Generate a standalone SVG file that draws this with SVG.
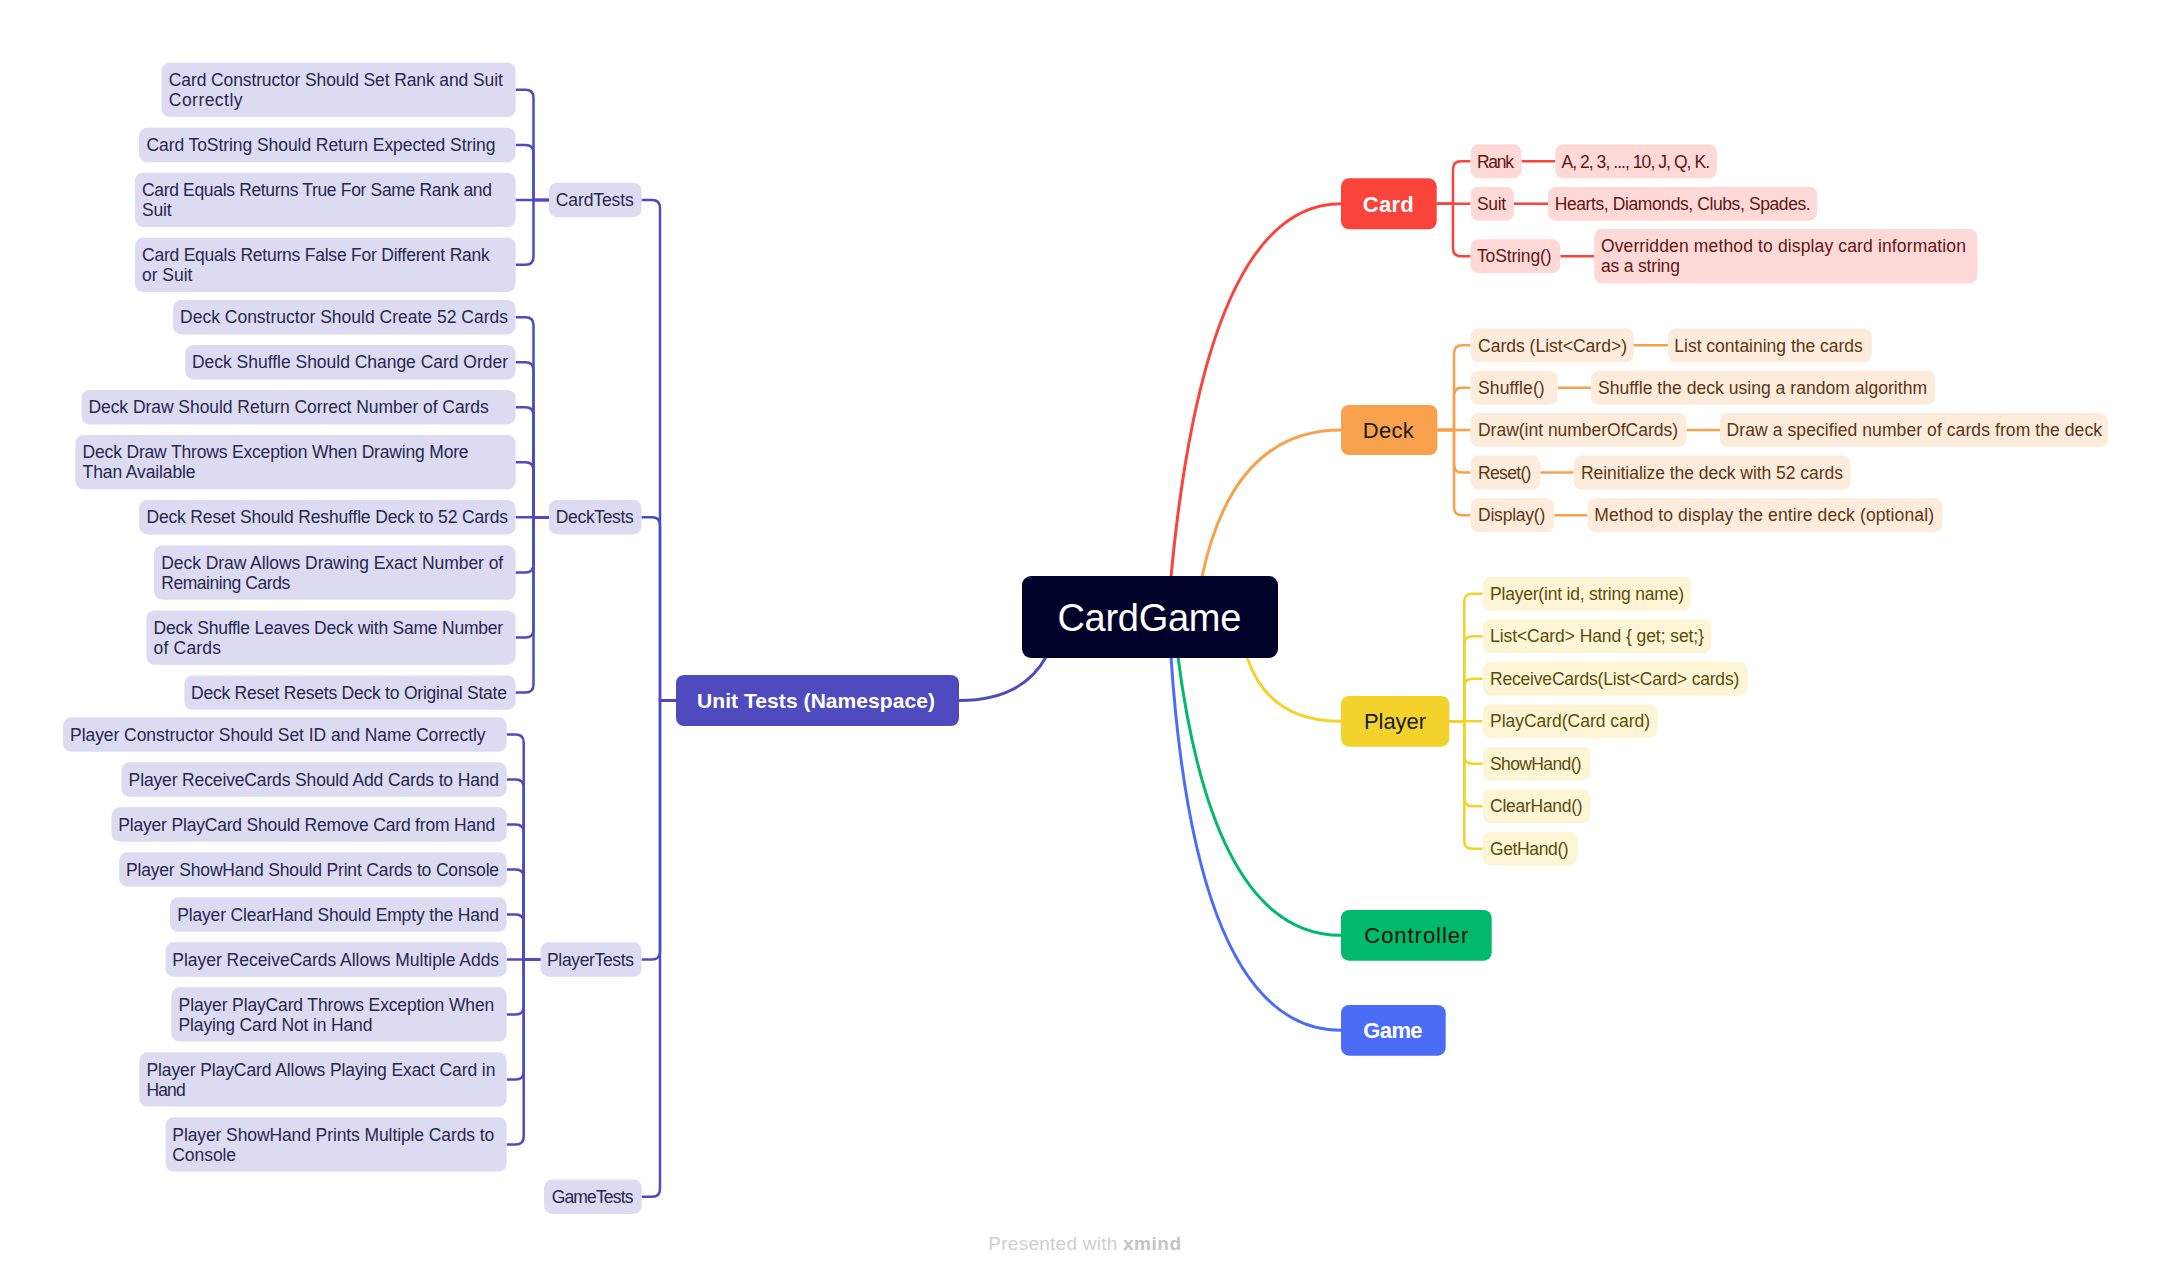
<svg xmlns="http://www.w3.org/2000/svg" width="2172" height="1277" viewBox="0 0 2172 1277">
<defs>
<style>
text{font-family:"Liberation Sans",Arial,sans-serif}
.s{font-size:17.5px}
.m{font-size:22px}
.tb{fill:#dcdbf2}
.tt{fill:#28284e}
.rb{fill:#ffd9d7}
.rt{fill:#5e1614}
.ob{fill:#fdebdb}
.ot{fill:#5a3716}
.yb{fill:#fdf6d6}
.yt{fill:#5b4c0c}
.ul{fill:none;stroke:#4f4bbf;stroke-width:2.5}
.rl{fill:none;stroke:#fa433a;stroke-width:2.5}
.ol{fill:none;stroke:#f7a14c;stroke-width:2.5}
.yl{fill:none;stroke:#f3d32b;stroke-width:2.5}
.main{fill:none;stroke-width:3}
</style>
</defs>
<rect width="2172" height="1277" fill="#ffffff"/>

<g id="connectors">
<path class="main" stroke="#fa433a" d="M1171 577 Q1206 203.8 1341 203.8"/>
<path class="main" stroke="#f7a14c" d="M1202 577 Q1233 430 1341 430"/>
<path class="main" stroke="#f3d32b" d="M1247 657 Q1268 721.3 1341 721.3"/>
<path class="main" stroke="#00b96b" d="M1178 657 Q1214 935.3 1341 935.3"/>
<path class="main" stroke="#4b6cf7" d="M1171 657 Q1196 1030.3 1341 1030.3"/>
<path class="main" stroke="#4f4bbf" d="M1046 657 Q1022 700.5 959 700.5"/>

<path class="ul" d="M676 700.5 H660 V208 Q660 200 652 200 H641.5"/>
<path class="ul" d="M676 700.5 H660 V525.2 Q660 517.2 652 517.2 H641.5"/>
<path class="ul" d="M676 700.5 H660 V951.5 Q660 959.5 652 959.5 H641.5"/>
<path class="ul" d="M676 700.5 H660 V1188.7 Q660 1196.7 652 1196.7 H641.7"/>

<path class="ul" d="M549 200 H533.5 V97.85 Q533.5 89.85 525.5 89.85 H515.6"/>
<path class="ul" d="M549 200 H533.5 V153 Q533.5 145 525.5 145 H515.6"/>
<path class="ul" d="M549 200 H515.6"/>
<path class="ul" d="M549 200 H533.5 V256.85 Q533.5 264.85 525.5 264.85 H515.6"/>

<path class="ul" d="M549 517.2 H533.5 V325.2 Q533.5 317.2 525.5 317.2 H515.6"/>
<path class="ul" d="M549 517.2 H533.5 V370.2 Q533.5 362.2 525.5 362.2 H515.6"/>
<path class="ul" d="M549 517.2 H533.5 V415.2 Q533.5 407.2 525.5 407.2 H515.6"/>
<path class="ul" d="M549 517.2 H533.5 V470.15 Q533.5 462.15 525.5 462.15 H515.6"/>
<path class="ul" d="M549 517.2 H515.6"/>
<path class="ul" d="M549 517.2 H533.5 V564.55 Q533.5 572.55 525.5 572.55 H515.6"/>
<path class="ul" d="M549 517.2 H533.5 V629.55 Q533.5 637.55 525.5 637.55 H515.6"/>
<path class="ul" d="M549 517.2 H533.5 V684.6 Q533.5 692.6 525.5 692.6 H515.6"/>

<path class="ul" d="M540.6 959.5 H523.7 V742.5 Q523.7 734.5 515.7 734.5 H506.7"/>
<path class="ul" d="M540.6 959.5 H523.7 V787.5 Q523.7 779.5 515.7 779.5 H506.7"/>
<path class="ul" d="M540.6 959.5 H523.7 V832.5 Q523.7 824.5 515.7 824.5 H506.7"/>
<path class="ul" d="M540.6 959.5 H523.7 V877.5 Q523.7 869.5 515.7 869.5 H506.7"/>
<path class="ul" d="M540.6 959.5 H523.7 V922.5 Q523.7 914.5 515.7 914.5 H506.7"/>
<path class="ul" d="M540.6 959.5 H506.7"/>
<path class="ul" d="M540.6 959.5 H523.7 V1006.45 Q523.7 1014.45 515.7 1014.45 H506.7"/>
<path class="ul" d="M540.6 959.5 H523.7 V1071.45 Q523.7 1079.45 515.7 1079.45 H506.7"/>
<path class="ul" d="M540.6 959.5 H523.7 V1136.45 Q523.7 1144.45 515.7 1144.45 H506.7"/>

<path class="rl" d="M1436.7 203.8 H1453 V169.3 Q1453 161.3 1461 161.3 H1470.5"/>
<path class="rl" d="M1436.7 203.8 H1470.5"/>
<path class="rl" d="M1436.7 203.8 H1453 V248.2 Q1453 256.2 1461 256.2 H1470.5"/>
<path class="rl" d="M1521.5 161.3 H1555.3 M1514 203.7 H1548 M1560.3 256.2 H1594.2"/>

<path class="ol" d="M1437.4 430 H1454 V353.3 Q1454 345.3 1462 345.3 H1470.5"/>
<path class="ol" d="M1437.4 430 H1454 V395.7 Q1454 387.7 1462 387.7 H1470.5"/>
<path class="ol" d="M1437.4 430 H1470.5"/>
<path class="ol" d="M1437.4 430 H1454 V464.5 Q1454 472.5 1462 472.5 H1470.5"/>
<path class="ol" d="M1437.4 430 H1454 V507.2 Q1454 515.2 1462 515.2 H1470.5"/>
<path class="ol" d="M1633.7 345.3 H1668.2 M1557.5 387.7 H1590.9 M1686.5 430 H1720 M1540.3 472.5 H1573.6 M1554.2 515.2 H1587.5"/>

<path class="yl" d="M1449.3 721.3 H1464.3 V601.7 Q1464.3 593.7 1472.3 593.7 H1482.7"/>
<path class="yl" d="M1449.3 721.3 H1464.3 V644.2 Q1464.3 636.2 1472.3 636.2 H1482.7"/>
<path class="yl" d="M1449.3 721.3 H1464.3 V686.7 Q1464.3 678.7 1472.3 678.7 H1482.7"/>
<path class="yl" d="M1449.3 721.3 H1482.7"/>
<path class="yl" d="M1449.3 721.3 H1464.3 V755.7 Q1464.3 763.7 1472.3 763.7 H1482.7"/>
<path class="yl" d="M1449.3 721.3 H1464.3 V798.2 Q1464.3 806.2 1472.3 806.2 H1482.7"/>
<path class="yl" d="M1449.3 721.3 H1464.3 V840.7 Q1464.3 848.7 1472.3 848.7 H1482.7"/>
</g>

<g id="root"><rect x="1022" y="576" width="256" height="82" rx="9" fill="#000229"/><text x="1057.4" y="630.6" font-size="38" fill="#ffffff" textLength="184">CardGame</text></g>

<g id="unit-tests"><rect x="676" y="675" width="283" height="51" rx="8" fill="#4f4bbf"/><text x="697" y="708" font-size="21" font-weight="bold" fill="#ffffff" textLength="238">Unit Tests (Namespace)</text></g>

<g id="card-tests"><rect class="tb" x="549" y="182.8" width="92.5" height="34.4" rx="8"/><text class="s tt" x="555.8" y="206.2" textLength="78">CardTests</text></g>
<g id="ct1"><rect class="tb" x="161.6" y="62.7" width="354" height="54.3" rx="8"/><text class="s tt" x="168.8" y="86" textLength="334">Card Constructor Should Set Rank and Suit</text><text class="s tt" x="168.8" y="106" textLength="73.7">Correctly</text></g>
<g id="ct2"><rect class="tb" x="139" y="127.8" width="376.6" height="34.4" rx="8"/><text class="s tt" x="146.4" y="151.2" textLength="349">Card ToString Should Return Expected String</text></g>
<g id="ct3"><rect class="tb" x="135" y="172.7" width="380.6" height="54.3" rx="8"/><text class="s tt" x="142" y="196" textLength="350">Card Equals Returns True For Same Rank and</text><text class="s tt" x="142" y="216" textLength="29.5">Suit</text></g>
<g id="ct4"><rect class="tb" x="135" y="237.7" width="380.6" height="54.3" rx="8"/><text class="s tt" x="142" y="261" textLength="347.8">Card Equals Returns False For Different Rank</text><text class="s tt" x="142" y="281" textLength="50.4">or Suit</text></g>

<g id="deck-tests"><rect class="tb" x="549" y="500" width="92.5" height="34.4" rx="8"/><text class="s tt" x="555.8" y="523.4" textLength="78">DeckTests</text></g>
<g id="dt1"><rect class="tb" x="173.2" y="300" width="342.4" height="34.4" rx="8"/><text class="s tt" x="180" y="323.4" textLength="328">Deck Constructor Should Create 52 Cards</text></g>
<g id="dt2"><rect class="tb" x="185.3" y="345" width="330.3" height="34.4" rx="8"/><text class="s tt" x="192" y="368.4" textLength="316">Deck Shuffle Should Change Card Order</text></g>
<g id="dt3"><rect class="tb" x="81.7" y="390" width="433.9" height="34.4" rx="8"/><text class="s tt" x="88.4" y="413.4" textLength="400.4">Deck Draw Should Return Correct Number of Cards</text></g>
<g id="dt4"><rect class="tb" x="75.4" y="435" width="440.2" height="54.3" rx="8"/><text class="s tt" x="82.6" y="458.3" textLength="386">Deck Draw Throws Exception When Drawing More</text><text class="s tt" x="82.6" y="478.3" textLength="113">Than Available</text></g>
<g id="dt5"><rect class="tb" x="139.3" y="500" width="376.3" height="34.4" rx="8"/><text class="s tt" x="146.4" y="523.4" textLength="361.6">Deck Reset Should Reshuffle Deck to 52 Cards</text></g>
<g id="dt6"><rect class="tb" x="154" y="545.4" width="361.6" height="54.3" rx="8"/><text class="s tt" x="161.2" y="568.7" textLength="342">Deck Draw Allows Drawing Exact Number of</text><text class="s tt" x="161.2" y="588.7" textLength="129">Remaining Cards</text></g>
<g id="dt7"><rect class="tb" x="146.4" y="610.4" width="369.2" height="54.3" rx="8"/><text class="s tt" x="153.6" y="633.7" textLength="349.5">Deck Shuffle Leaves Deck with Same Number</text><text class="s tt" x="153.6" y="653.7" textLength="67.4">of Cards</text></g>
<g id="dt8"><rect class="tb" x="184.4" y="675.4" width="331.2" height="34.4" rx="8"/><text class="s tt" x="191" y="698.8" textLength="316">Deck Reset Resets Deck to Original State</text></g>

<g id="player-tests"><rect class="tb" x="540.6" y="942.3" width="100.9" height="34.4" rx="8"/><text class="s tt" x="547" y="965.7" textLength="87">PlayerTests</text></g>
<g id="pt1"><rect class="tb" x="63" y="717.3" width="443.7" height="34.4" rx="8"/><text class="s tt" x="70" y="740.7" textLength="415.6">Player Constructor Should Set ID and Name Correctly</text></g>
<g id="pt2"><rect class="tb" x="121.4" y="762.3" width="385.3" height="34.4" rx="8"/><text class="s tt" x="128.6" y="785.7" textLength="370.5">Player ReceiveCards Should Add Cards to Hand</text></g>
<g id="pt3"><rect class="tb" x="111.6" y="807.3" width="395.1" height="34.4" rx="8"/><text class="s tt" x="118.3" y="830.7" textLength="377">Player PlayCard Should Remove Card from Hand</text></g>
<g id="pt4"><rect class="tb" x="119.2" y="852.3" width="387.5" height="34.4" rx="8"/><text class="s tt" x="125.9" y="875.7" textLength="373.2">Player ShowHand Should Print Cards to Console</text></g>
<g id="pt5"><rect class="tb" x="170" y="897.3" width="336.7" height="34.4" rx="8"/><text class="s tt" x="177.2" y="920.7" textLength="321.9">Player ClearHand Should Empty the Hand</text></g>
<g id="pt6"><rect class="tb" x="165.6" y="942.3" width="341.1" height="34.4" rx="8"/><text class="s tt" x="172.3" y="965.7" textLength="326.8">Player ReceiveCards Allows Multiple Adds</text></g>
<g id="pt7"><rect class="tb" x="171.4" y="987.3" width="335.3" height="54.3" rx="8"/><text class="s tt" x="178.6" y="1010.6" textLength="315.6">Player PlayCard Throws Exception When</text><text class="s tt" x="178.6" y="1030.6" textLength="193.8">Playing Card Not in Hand</text></g>
<g id="pt8"><rect class="tb" x="139.3" y="1052.3" width="367.4" height="54.3" rx="8"/><text class="s tt" x="146.4" y="1075.6" textLength="349">Player PlayCard Allows Playing Exact Card in</text><text class="s tt" x="146.4" y="1095.6" textLength="39.3">Hand</text></g>
<g id="pt9"><rect class="tb" x="165.6" y="1117.3" width="341.1" height="54.3" rx="8"/><text class="s tt" x="172.3" y="1140.6" textLength="321.9">Player ShowHand Prints Multiple Cards to</text><text class="s tt" x="172.3" y="1160.6" textLength="63.8">Console</text></g>

<g id="game-tests"><rect class="tb" x="544" y="1179.5" width="97.7" height="34.4" rx="8"/><text class="s tt" x="551.7" y="1202.9" textLength="81.7">GameTests</text></g>

<g id="card"><rect x="1341" y="178.3" width="95.7" height="51" rx="8" fill="#fa433a"/><text class="m" x="1362.8" y="211.7" font-weight="bold" fill="#ffffff" textLength="51">Card</text></g>
<g id="card-rank"><rect class="rb" x="1470.5" y="144.3" width="51" height="34" rx="8"/><text class="s rt" x="1477" y="167.5" textLength="37">Rank</text></g>
<g id="card-suit"><rect class="rb" x="1470.5" y="186.7" width="43.5" height="34" rx="8"/><text class="s rt" x="1477" y="209.9" textLength="29">Suit</text></g>
<g id="card-tostring"><rect class="rb" x="1470.5" y="239.2" width="89.8" height="34" rx="8"/><text class="s rt" x="1477" y="262.4" textLength="74.5">ToString()</text></g>
<g id="card-rank-v"><rect class="rb" x="1555.3" y="144.3" width="161.7" height="34" rx="8"/><text class="s rt" x="1561.4" y="167.5" textLength="148.6">A, 2, 3, ..., 10, J, Q, K.</text></g>
<g id="card-suit-v"><rect class="rb" x="1548" y="186.7" width="269.2" height="34" rx="8"/><text class="s rt" x="1554.7" y="209.9" textLength="256">Hearts, Diamonds, Clubs, Spades.</text></g>
<g id="card-tostring-v"><rect class="rb" x="1594.2" y="229" width="383.2" height="54.4" rx="8"/><text class="s rt" x="1600.9" y="252.4" textLength="365">Overridden method to display card information</text><text class="s rt" x="1600.9" y="272.4" textLength="79">as a string</text></g>

<g id="deck"><rect x="1341" y="405" width="96.4" height="50" rx="8" fill="#f7a14c"/><text class="m" x="1362.8" y="437.7" fill="#1b1b1b" textLength="51">Deck</text></g>
<g id="deck-cards"><rect class="ob" x="1470.5" y="328.3" width="163.2" height="34" rx="8"/><text class="s ot" x="1478" y="351.5" textLength="149">Cards (List&lt;Card&gt;)</text></g>
<g id="deck-shuffle"><rect class="ob" x="1470.5" y="370.7" width="87" height="34" rx="8"/><text class="s ot" x="1478" y="393.9" textLength="66.7">Shuffle()</text></g>
<g id="deck-draw"><rect class="ob" x="1470.5" y="413" width="216" height="34" rx="8"/><text class="s ot" x="1478" y="436.2" textLength="200">Draw(int numberOfCards)</text></g>
<g id="deck-reset"><rect class="ob" x="1470.5" y="455.5" width="69.8" height="34" rx="8"/><text class="s ot" x="1478" y="478.7" textLength="53.4">Reset()</text></g>
<g id="deck-display"><rect class="ob" x="1470.5" y="498.2" width="83.7" height="34" rx="8"/><text class="s ot" x="1478" y="521.4" textLength="67.3">Display()</text></g>
<g id="deck-cards-v"><rect class="ob" x="1668.2" y="328.3" width="203.5" height="34" rx="8"/><text class="s ot" x="1674.3" y="351.5" textLength="188.5">List containing the cards</text></g>
<g id="deck-shuffle-v"><rect class="ob" x="1590.9" y="370.7" width="344.2" height="34" rx="8"/><text class="s ot" x="1598" y="393.9" textLength="329">Shuffle the deck using a random algorithm</text></g>
<g id="deck-draw-v"><rect class="ob" x="1720" y="413" width="388" height="34" rx="8"/><text class="s ot" x="1726.6" y="436.2" textLength="375.4">Draw a specified number of cards from the deck</text></g>
<g id="deck-reset-v"><rect class="ob" x="1573.6" y="455.5" width="277" height="34" rx="8"/><text class="s ot" x="1580.9" y="478.7" textLength="262">Reinitialize the deck with 52 cards</text></g>
<g id="deck-display-v"><rect class="ob" x="1587.5" y="498.2" width="354.9" height="34" rx="8"/><text class="s ot" x="1594.2" y="521.4" textLength="339.8">Method to display the entire deck (optional)</text></g>

<g id="player"><rect x="1341" y="696" width="108.3" height="50.7" rx="8" fill="#f3d32b"/><text class="m" x="1364" y="729" fill="#1b1b1b" textLength="62">Player</text></g>
<g id="player-ctor"><rect class="yb" x="1482.7" y="576.7" width="208.6" height="34" rx="8"/><text class="s yt" x="1490" y="599.9" textLength="194">Player(int id, string name)</text></g>
<g id="player-hand"><rect class="yb" x="1482.7" y="619.2" width="229" height="34" rx="8"/><text class="s yt" x="1490" y="642.4" textLength="214">List&lt;Card&gt; Hand { get; set;}</text></g>
<g id="player-receive"><rect class="yb" x="1482.7" y="661.7" width="265" height="34" rx="8"/><text class="s yt" x="1490" y="684.9" textLength="249.3">ReceiveCards(List&lt;Card&gt; cards)</text></g>
<g id="player-play"><rect class="yb" x="1482.7" y="704.2" width="175" height="34" rx="8"/><text class="s yt" x="1490" y="727.4" textLength="160">PlayCard(Card card)</text></g>
<g id="player-show"><rect class="yb" x="1482.7" y="746.7" width="107.6" height="34" rx="8"/><text class="s yt" x="1490" y="769.9" textLength="91.7">ShowHand()</text></g>
<g id="player-clear"><rect class="yb" x="1482.7" y="789.2" width="107.6" height="34" rx="8"/><text class="s yt" x="1490" y="812.4" textLength="92.7">ClearHand()</text></g>
<g id="player-get"><rect class="yb" x="1482.7" y="831.7" width="95" height="34" rx="8"/><text class="s yt" x="1490" y="854.9" textLength="78.7">GetHand()</text></g>

<g id="controller"><rect x="1341" y="910" width="150.7" height="50.7" rx="8" fill="#00b96b"/><text class="m" x="1364.3" y="943.2" fill="#111111" textLength="104">Controller</text></g>
<g id="game"><rect x="1341" y="1005" width="104.7" height="50.7" rx="8" fill="#4b6cf7"/><text class="m" x="1363.3" y="1038.2" font-weight="bold" fill="#ffffff" textLength="59.3">Game</text></g>

<g id="footer"><text x="988.3" y="1250" font-size="19" fill="#cfcfcf" textLength="129">Presented with</text><text x="1123" y="1250" font-size="19" font-weight="bold" fill="#c4c4c4" textLength="58">xmind</text></g>
</svg>
